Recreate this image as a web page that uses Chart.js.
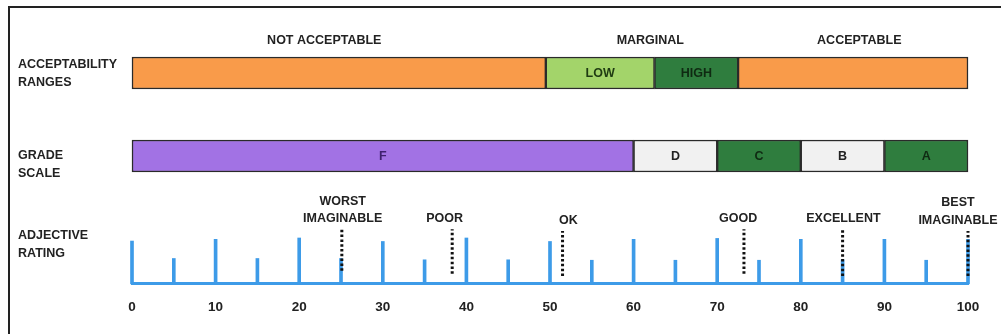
<!DOCTYPE html>
<html><head><meta charset="utf-8">
<script src="https://cdn.jsdelivr.net/npm/chart.js@4/dist/chart.umd.min.js"></script>
<style>
html,body{margin:0;padding:0;background:#fff;width:1001px;height:334px;overflow:hidden}
#frame{position:absolute;left:8px;top:6px;width:1100px;height:400px;border-top:2px solid #222;border-left:2px solid #222}
#wa{position:absolute;left:0;top:0;width:1001px;height:200px}
#wb{position:absolute;left:0;top:180px;width:1001px;height:170px}
</style></head><body>
<div id="frame"></div>
<div id="wa"><canvas id="ca"></canvas></div>
<div id="wb"><canvas id="cb"></canvas></div>
<script>
// ---- data ----
const rowNames = ['ACCEPTABILITY RANGES', 'GRADE SCALE'];
const rangeNames = ['NOT ACCEPTABLE', 'MARGINAL', 'ACCEPTABLE'];
const rangeNameAt = [23, 62, 87];
const accSegLabels = ['', 'LOW', 'HIGH', ''];
const accSegStart = [0, 49.5, 62.5, 72.5];
const accSegEnd = [49.5, 62.5, 72.5, 100];
const gradeLabels = ['F', 'D', 'C', 'B', 'A'];
const gradeStart = [0, 60, 70, 80, 90];
const gradeEnd = [60, 70, 80, 90, 100];
const scaleTicks = [0, 5, 10, 15, 20, 25, 30, 35, 40, 45, 50, 55, 60, 65, 70, 75, 80, 85, 90, 95, 100];
const scaleTickHeights = [0.98, 0.58, 1.02, 0.58, 1.05, 0.58, 0.97, 0.55, 1.05, 0.55, 0.97, 0.54, 1.02, 0.54, 1.04, 0.54, 1.02, 0.55, 1.02, 0.54, 1.02];
const adjLabels = ['WORST IMAGINABLE', 'POOR', 'OK', 'GOOD', 'EXCELLENT', 'BEST IMAGINABLE'];
const adjValues = [25.1, 38.3, 51.5, 73.2, 85.0, 100];
const adjTop = [1.25, 1.25, 1.21, 1.25, 1.25, 1.21];
const adjBottom = [0.30, 0.23, 0.18, 0.23, 0.18, 0.18];
const adjLabelAt = [25.2, 37.4, 52.2, 72.5, 85.1, 98.8];
const axisTickStep = 10;

// ---- styles ----
const FONT = "'Liberation Sans', Arial, sans-serif";
const TXT = '#222';
const accColors = ['#F99B4A', '#A3D46A', '#2F7D3E', '#F99B4A'];
const accTextColors = ['#222', '#1f3b12', '#0f2a12', '#222'];
const gradeColors = ['#A272E4', '#F1F1F1', '#2F7D3E', '#F1F1F1', '#2F7D3E'];
const gradeTextColors = ['#3f2170', '#222', '#0f2a12', '#222', '#0f2a12'];
const BLUE = '#3D9BE8';

Chart.defaults.font.family = FONT;

function multi(txt) { return txt.split(' '); }

// ---- chart A: acceptability + grade ----
const dsA = [];
accSegStart.forEach((s, i) => dsA.push({
  data: [[s, accSegEnd[i]], null], segLabel: accSegLabels[i], segColor: accTextColors[i],
  backgroundColor: accColors[i], borderColor: '#2a2a2a', borderWidth: 1.5, borderSkipped: false,
  grouped: false, barThickness: 32, clip: false
}));
gradeStart.forEach((s, i) => dsA.push({
  data: [null, [s, gradeEnd[i]]], segLabel: gradeLabels[i], segColor: gradeTextColors[i],
  backgroundColor: gradeColors[i], borderColor: '#2a2a2a', borderWidth: 1.5, borderSkipped: false,
  grouped: false, barThickness: 32, clip: false
}));

const labelsA = {
  id: 'labelsA',
  afterDatasetsDraw(chart) {
    const ctx = chart.ctx, xs = chart.scales.x, ys = chart.scales.y;
    ctx.save();
    ctx.font = "bold 12.5px " + FONT;
    ctx.textBaseline = 'middle';
    chart.data.datasets.forEach((ds, di) => {
      const meta = chart.getDatasetMeta(di);
      meta.data.forEach((el, j) => {
        if (ds.data[j] == null || !ds.segLabel) return;
        ctx.fillStyle = ds.segColor;
        ctx.textAlign = 'center';
        ctx.fillText(ds.segLabel, (el.x + el.base) / 2, el.y + 1);
      });
    });
    const y0 = ys.getPixelForValue(0);
    ctx.fillStyle = TXT;
    rangeNames.forEach((n, i) => {
      ctx.textAlign = 'center';
      ctx.fillText(n, xs.getPixelForValue(rangeNameAt[i]), y0 - 32);
    });
    ctx.textAlign = 'left';
    const offs = [[-8.5, 9.5], [-0.5, 17.5]];
    rowNames.forEach((n, i) => {
      const yc = ys.getPixelForValue(i);
      multi(n).forEach((w, k) => ctx.fillText(w, 18, yc + offs[i][k]));
    });
    ctx.restore();
  }
};

new Chart(document.getElementById('ca'), {
  type: 'bar',
  data: { labels: rowNames, datasets: dsA },
  options: {
    indexAxis: 'y', responsive: true, maintainAspectRatio: false, animation: false,
    layout: { padding: { left: 132, right: 33, top: 31.5, bottom: 2.5 } },
    plugins: { legend: { display: false }, tooltip: { enabled: false } },
    scales: {
      x: { type: 'linear', min: 0, max: 100, display: false },
      y: { display: false, offset: true }
    }
  },
  plugins: [labelsA]
});

// ---- chart B: adjective rating ----
const dsB = [{
  type: 'bar', order: 2,
  data: scaleTicks.map((v, i) => ({ x: v, y: scaleTickHeights[i] })),
  backgroundColor: BLUE, borderWidth: 0, barThickness: 3, clip: false
}];
adjValues.forEach((v, i) => dsB.push({
  type: 'line', order: 1,
  data: [{ x: v, y: adjBottom[i] }, { x: v, y: adjTop[i] }],
  borderColor: '#111', borderWidth: 3, borderDash: [2.5, 2.3], borderCapStyle: 'butt',
  pointRadius: 0, fill: false, clip: false
}));

const labelsB = {
  id: 'labelsB',
  afterDatasetsDraw(chart) {
    const ctx = chart.ctx, xs = chart.scales.x, ys = chart.scales.y;
    ctx.save();
    ctx.font = "bold 12.5px " + FONT;
    ctx.textBaseline = 'middle';
    ctx.fillStyle = TXT;
    ctx.textAlign = 'center';
    adjLabels.forEach((n, i) => {
      const x = xs.getPixelForValue(adjLabelAt[i]);
      const yt = ys.getPixelForValue(adjTop[i]);
      const lines = n.includes('IMAGINABLE') ? multi(n) : [n];
      lines.forEach((w, k) => ctx.fillText(w, x, yt - 10.5 - (lines.length - 1 - k) * 17.5));
    });
    ctx.textAlign = 'left';
    const yb = ys.getPixelForValue(0);
    ctx.fillText('ADJECTIVE', 18, yb - 48);
    ctx.fillText('RATING', 18, yb - 30);
    ctx.restore();
  }
};

new Chart(document.getElementById('cb'), {
  type: 'bar',
  data: { datasets: dsB },
  options: {
    responsive: true, maintainAspectRatio: false, animation: false,
    layout: { padding: { left: 132, right: 33, top: 10, bottom: 20 } },
    plugins: { legend: { display: false }, tooltip: { enabled: false } },
    scales: {
      x: {
        type: 'linear', min: 0, max: 100, offset: false,
        ticks: { stepSize: axisTickStep, maxRotation: 0, padding: 15, color: TXT, font: { weight: 'bold', size: 13.5 } },
        grid: { display: false, drawTicks: false },
        border: { display: true, color: BLUE, width: 3 }
      },
      y: { display: false, min: 0, max: 2.15 }
    }
  },
  plugins: [labelsB]
});
</script>
</body></html>
